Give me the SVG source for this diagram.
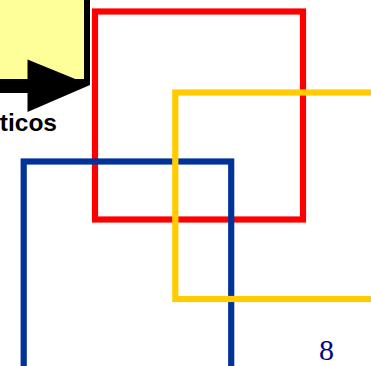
<svg xmlns="http://www.w3.org/2000/svg" width="371" height="366" viewBox="0 0 371 366">
<style>
.frame{fill:none;stroke-width:6.2;stroke-linejoin:miter}
.lbl{font-family:"Liberation Sans",Arial,sans-serif;font-weight:bold;fill:#000}
.num{font-family:"Liberation Serif","Times New Roman",serif;fill:#000080}
</style>
<rect width="371" height="366" fill="#fff"/>
<g id="note">
<rect x="-20" y="-20" width="107" height="102" fill="#FFFF99" stroke="#000" stroke-width="6"/>
<rect x="-5" y="79" width="34" height="14" fill="#000"/>
<polygon points="27.5,59.5 27.5,112 90,85" fill="#000"/>
<text class="lbl" x="57" y="131" font-size="24.5" text-anchor="end">ticos</text>
</g>
<g id="frames">
<rect id="red" class="frame" x="95" y="11.5" width="208" height="208" stroke="#FF0000"/>
<rect id="blue" class="frame" x="23.7" y="161.5" width="207.5" height="230" stroke="#003399"/>
<rect id="yellow" class="frame" x="175.3" y="92.5" width="240" height="206.5" stroke="#FFCC00"/>
</g>
<text class="num" x="326.5" y="359.5" font-size="30" text-anchor="middle">8</text>
</svg>
